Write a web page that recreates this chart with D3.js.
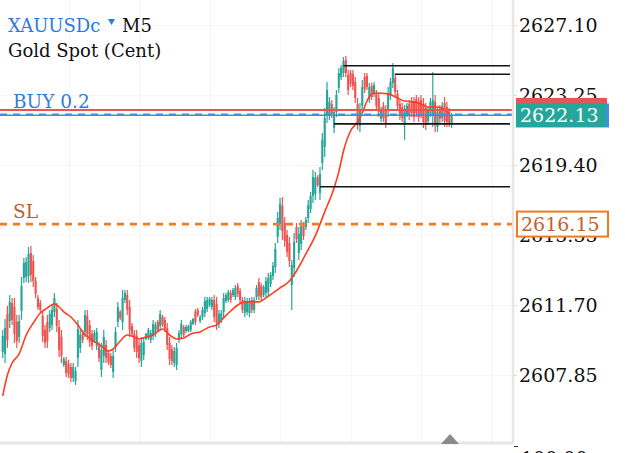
<!DOCTYPE html>
<html>
<head>
<meta charset="utf-8">
<script src="https://cdn.jsdelivr.net/npm/d3@7"></script>
<style>
  body { margin: 0; background: #fff; }
  svg { display: block; }
  text { font-family: "DejaVu Serif", serif; }
</style>
</head>
<body>
<div id="chart"></div>
<script>
// XAUUSDc M5 candles: [open, high, low, close]
var candles = [
  [2609.12,2610.33,2608.79,2610.00],[2609.01,2610.93,2608.51,2610.44],[2611.21,2611.65,2609.34,2609.78],[2610.82,2612.25,2610.44,2611.87],
  [2611.81,2612.09,2610.60,2610.88],[2611.59,2612.09,2609.61,2610.11],[2610.77,2611.15,2609.34,2609.72],[2609.94,2611.15,2609.61,2610.82],
  [2611.37,2613.24,2610.88,2612.75],[2613.19,2614.29,2612.91,2614.01],[2613.24,2614.34,2612.97,2614.07],[2613.30,2614.89,2612.91,2614.51],
  [2614.56,2614.95,2612.97,2613.35],[2614.12,2614.45,2612.69,2613.02],[2613.02,2613.24,2612.09,2612.31],[2612.09,2612.25,2611.43,2611.59],
  [2611.81,2611.98,2611.26,2611.43],[2611.10,2611.43,2609.67,2610.00],[2610.33,2610.60,2609.34,2609.61],[2610.77,2611.15,2609.34,2609.72],
  [2610.44,2611.43,2610.22,2611.21],[2610.60,2611.70,2610.33,2611.43],[2611.32,2612.36,2611.04,2612.09],[2611.48,2611.81,2610.22,2610.55],
  [2610.49,2610.88,2608.84,2609.23],[2609.94,2610.33,2608.51,2608.90],[2608.40,2608.84,2608.29,2608.73],[2608.62,2608.84,2607.74,2607.96],
  [2608.46,2608.68,2607.69,2607.91],[2608.29,2608.51,2607.47,2607.69],[2607.69,2608.51,2607.47,2608.29],[2607.52,2608.29,2607.30,2608.07],
  [2608.79,2610.88,2608.29,2610.38],[2609.34,2610.33,2609.06,2610.05],[2610.16,2610.33,2609.61,2609.78],[2610.22,2611.43,2609.94,2611.15],
  [2611.10,2611.43,2609.78,2610.11],[2610.60,2610.88,2609.39,2609.67],[2610.11,2610.33,2609.23,2609.45],[2609.78,2610.33,2609.61,2610.16],
  [2609.45,2610.44,2609.23,2610.22],[2609.45,2609.67,2608.57,2608.79],[2608.13,2609.61,2607.74,2609.23],[2608.90,2610.33,2608.51,2609.94],
  [2609.50,2609.78,2608.51,2608.79],[2609.06,2609.23,2608.40,2608.57],[2608.90,2609.06,2608.24,2608.40],[2608.02,2609.23,2607.69,2608.90],
  [2609.39,2610.49,2609.12,2610.22],[2610.77,2611.87,2610.49,2611.59],[2611.32,2611.43,2610.88,2610.99],[2610.77,2612.53,2610.33,2612.09],
  [2611.98,2612.53,2611.81,2612.36],[2612.25,2612.53,2611.15,2611.43],[2611.59,2611.98,2609.94,2610.33],[2610.55,2610.71,2609.94,2610.11],
  [2610.11,2610.33,2609.12,2609.34],[2610.00,2610.33,2608.79,2609.12],[2609.50,2609.78,2608.51,2608.79],[2608.62,2609.94,2608.29,2609.61],
  [2608.95,2609.94,2608.68,2609.67],[2609.83,2610.16,2609.78,2610.11],[2609.89,2610.44,2609.78,2610.33],[2609.78,2610.33,2609.61,2610.16],
  [2610.00,2610.88,2609.78,2610.66],[2610.11,2610.77,2609.94,2610.60],[2610.77,2610.88,2610.22,2610.33],[2610.55,2611.43,2610.33,2611.21],
  [2611.04,2611.15,2610.49,2610.60],[2610.88,2611.04,2610.22,2610.38],[2610.44,2610.71,2609.23,2609.50],[2609.61,2609.94,2608.40,2608.73],
  [2609.28,2609.50,2608.40,2608.62],[2608.51,2609.39,2608.29,2609.17],[2608.40,2609.61,2608.13,2609.34],[2609.78,2610.33,2609.61,2610.16],
  [2610.11,2610.88,2609.89,2610.66],[2610.49,2610.60,2609.94,2610.05],[2610.27,2610.60,2610.16,2610.49],[2610.27,2610.60,2610.22,2610.55],
  [2610.33,2610.88,2610.22,2610.77],[2610.66,2610.99,2610.60,2610.93],[2611.32,2611.48,2610.60,2610.77],[2611.43,2611.54,2611.04,2611.15],
  [2610.82,2611.15,2610.71,2611.04],[2611.04,2611.59,2610.88,2611.43],[2611.26,2612.14,2611.04,2611.92],[2611.48,2612.14,2611.32,2611.98],
  [2611.70,2612.14,2611.59,2612.03],[2611.59,2612.14,2611.43,2611.98],[2611.98,2612.25,2610.77,2611.04],[2611.76,2612.14,2610.33,2610.71],
  [2610.66,2611.43,2610.44,2611.21],[2610.88,2611.43,2610.71,2611.26],[2611.32,2612.36,2611.04,2612.09],[2611.92,2612.36,2611.81,2612.25],
  [2611.98,2612.53,2611.87,2612.42],[2612.36,2612.53,2611.81,2611.98],[2612.25,2612.64,2612.14,2612.53],[2612.14,2612.80,2611.98,2612.64],
  [2612.75,2612.91,2612.14,2612.31],[2612.47,2612.64,2611.81,2611.98],[2611.98,2612.14,2611.26,2611.43],[2611.26,2612.14,2611.04,2611.92],
  [2611.32,2612.09,2611.15,2611.92],[2611.26,2612.09,2611.04,2611.87],[2611.98,2612.14,2611.26,2611.43],[2611.43,2612.14,2611.26,2611.98],
  [2612.14,2612.80,2611.98,2612.64],[2612.97,2613.19,2611.98,2612.20],[2612.75,2612.91,2611.98,2612.14],[2612.25,2612.80,2612.14,2612.69],
  [2612.36,2613.24,2612.14,2613.02],[2612.42,2613.46,2612.14,2613.19],[2612.86,2613.52,2612.69,2613.35],[2613.30,2614.07,2613.08,2613.85],
  [2613.79,2615.11,2613.46,2614.78],[2615.44,2616.82,2615.11,2616.49],[2616.16,2617.59,2615.83,2617.26],[2617.15,2617.64,2615.28,2615.77],
  [2616.21,2616.54,2614.89,2615.22],[2615.55,2615.83,2614.34,2614.62],[2615.11,2615.44,2613.79,2614.12],[2612.80,2614.18,2611.43,2613.90],
  [2613.74,2615.66,2613.24,2615.17],[2615.99,2616.21,2615.11,2615.33],[2614.56,2615.99,2614.18,2615.61],[2615.06,2616.38,2614.73,2616.05],
  [2616.05,2616.27,2615.28,2615.50],[2615.99,2616.54,2615.83,2616.38],[2616.49,2617.48,2616.21,2617.20],[2616.98,2617.92,2616.76,2617.70],
  [2617.70,2619.13,2617.31,2618.74],[2617.81,2619.02,2617.48,2618.69],[2618.74,2618.85,2618.19,2618.30],[2617.86,2619.29,2617.48,2618.91],
  [2619.51,2621.16,2619.13,2620.78],[2620.39,2622.54,2619.84,2621.99],[2622.15,2623.97,2621.71,2623.53],[2622.15,2623.14,2621.88,2622.87],
  [2622.76,2622.98,2621.99,2622.21],[2621.44,2622.59,2621.16,2622.32],[2622.32,2623.53,2622.04,2623.25],[2623.64,2624.74,2623.36,2624.46],
  [2624.24,2624.90,2624.08,2624.74],[2624.46,2625.34,2624.24,2625.12],[2625.18,2625.40,2624.24,2624.46],[2624.35,2624.63,2623.25,2623.53],
  [2624.46,2624.63,2623.69,2623.86],[2624.41,2624.63,2623.53,2623.75],[2623.97,2624.24,2622.81,2623.09],[2622.76,2623.09,2621.33,2621.66],
  [2621.55,2622.81,2621.22,2622.48],[2622.65,2624.08,2622.26,2623.69],[2624.24,2624.46,2623.36,2623.58],[2624.30,2624.46,2623.53,2623.69],
  [2623.03,2623.91,2622.81,2623.69],[2623.75,2623.91,2622.98,2623.14],[2623.31,2623.97,2623.14,2623.80],[2623.31,2623.53,2622.43,2622.65],
  [2623.09,2623.36,2622.04,2622.32],[2621.93,2622.59,2621.77,2622.43],[2622.65,2622.87,2621.77,2621.99],[2622.43,2622.70,2621.44,2621.71],
  [2622.37,2623.69,2622.04,2623.36],[2623.20,2624.19,2622.98,2623.97],[2623.91,2625.01,2623.64,2624.74],[2624.19,2624.46,2623.14,2623.42],
  [2623.31,2623.53,2622.43,2622.65],[2622.76,2622.98,2621.88,2622.10],[2622.59,2622.81,2621.77,2621.99],[2621.60,2622.70,2620.78,2622.43],
  [2622.21,2622.81,2622.04,2622.65],[2622.76,2622.98,2621.88,2622.10],[2622.92,2623.14,2622.04,2622.26],[2622.87,2623.14,2621.77,2622.04],
  [2623.03,2623.25,2622.04,2622.26],[2622.87,2623.14,2621.77,2622.04],[2622.98,2623.25,2621.99,2622.26],[2622.76,2623.09,2621.44,2621.77],
  [2622.54,2622.81,2621.33,2621.60],[2621.82,2622.59,2621.60,2622.37],[2622.26,2623.09,2622.04,2622.87],[2622.15,2624.52,2621.49,2622.98],
  [2622.87,2623.25,2621.22,2621.60],[2621.49,2622.59,2621.22,2622.32],[2622.48,2622.70,2621.71,2621.93],[2621.99,2622.87,2621.77,2622.65],
  [2622.81,2623.14,2621.49,2621.82],[2622.59,2622.87,2621.49,2621.77],[2622.32,2622.54,2621.49,2621.71],[2621.60,2622.26,2621.44,2622.13]
];

// moving average line, [candle index, value]
var maPoints = [
  [0,2606.70],[2,2607.85],[4,2608.51],[7,2609.01],[10,2610.05],[13,2610.71],[16,2611.26],[19,2611.54],
  [22,2611.76],[24,2611.59],[26,2611.32],[29,2611.04],[32,2610.60],[34,2610.22],[38,2609.78],[42,2609.45],
  [45,2609.17],[47,2609.28],[50,2609.72],[53,2610.05],[55,2610.00],[58,2609.83],[61,2609.94],[64,2610.05],
  [67,2610.33],[68,2610.38],[71,2610.05],[74,2609.83],[77,2609.89],[80,2610.11],[84,2610.22],[88,2610.49],
  [91,2610.60],[94,2610.99],[97,2611.37],[100,2611.70],[103,2611.87],[109,2611.87],[112,2612.09],[118,2612.64],
  [122,2613.02],[125,2613.57],[129,2614.51],[133,2615.50],[137,2616.82],[141,2618.14],[143,2619.02],[145,2620.17],
  [148,2621.27],[151,2621.77],[153,2622.26],[155,2622.92],[157,2623.31],[159,2623.36],[164,2623.31],[168,2623.09],
  [171,2622.92],[175,2622.87],[178,2622.76],[181,2622.59],[185,2622.59],[188,2622.43],[190,2622.26]
];

// black level lines: [start candle index, price]
var levelLines = [[145, 2624.86], [167, 2624.39], [141, 2621.66], [135, 2618.20]];

var tickValues = [2627.10, 2623.25, 2619.40, 2615.55, 2611.70, 2607.85];
var gridCandles = [28, 58, 88, 118, 148, 178, 208];

var askPrice = 2622.43;
var buyPrice = 2622.18;
var bidPrice = 2622.13;
var slPrice = 2616.15;

var width = 625;
var height = 453;
var plotRight = 512;
var plotBottom = 443;

var upColor = "#26a69a";
var downColor = "#ef5350";

var svg = d3.select("#chart")
  .append("svg")
    .attr("width", width)
    .attr("height", height);

var x = d3.scaleLinear().domain([0, 191]).range([2.7, 451.6]);
var y = d3.scaleLinear().domain([2607.85, 2627.10]).range([375, 25]);

// faint grid
svg.append("g").selectAll("line")
  .data(tickValues)
  .enter().append("line")
    .attr("x1", 0).attr("x2", plotRight)
    .attr("y1", function(d) { return Math.round(y(d)) + 0.5; })
    .attr("y2", function(d) { return Math.round(y(d)) + 0.5; })
    .attr("stroke", "#f5f5f5");

svg.append("g").selectAll("line")
  .data(gridCandles)
  .enter().append("line")
    .attr("x1", function(d) { return Math.round(x(d)) + 0.5; })
    .attr("x2", function(d) { return Math.round(x(d)) + 0.5; })
    .attr("y1", 0).attr("y2", plotBottom)
    .attr("stroke", "#f5f5f5");

// candles
var candle = svg.append("g")
  .attr("class", "candles")
  .selectAll("g")
  .data(candles)
  .enter().append("g");

candle.append("line")
  .attr("x1", function(d, i) { return x(i); })
  .attr("x2", function(d, i) { return x(i); })
  .attr("y1", function(d) { return y(d[1]); })
  .attr("y2", function(d) { return y(d[2]); })
  .attr("stroke", function(d) { return d[3] >= d[0] ? upColor : downColor; })
  .attr("stroke-width", 1.2);

candle.append("rect")
  .attr("x", function(d, i) { return x(i) - 1.05; })
  .attr("width", 2.1)
  .attr("y", function(d) { return y(Math.max(d[0], d[3])); })
  .attr("height", function(d) { return Math.max(1, Math.abs(y(d[0]) - y(d[3]))); })
  .attr("fill", function(d) { return d[3] >= d[0] ? upColor : downColor; });

// moving average
var maLine = d3.line()
  .x(function(d) { return x(d[0]); })
  .y(function(d) { return y(d[1]); })
  .curve(d3.curveMonotoneX);

svg.append("path")
  .datum(maPoints)
  .attr("d", maLine)
  .attr("fill", "none")
  .attr("stroke", "#ff3d1f")
  .attr("stroke-width", 1.6);

// level lines
svg.append("g").selectAll("line")
  .data(levelLines)
  .enter().append("line")
    .attr("x1", function(d) { return x(d[0]); })
    .attr("x2", 510)
    .attr("y1", function(d) { return y(d[1]); })
    .attr("y2", function(d) { return y(d[1]); })
    .attr("stroke", "#151515")
    .attr("stroke-width", 1.6);

// trade lines
svg.append("line")
  .attr("x1", 0).attr("x2", plotRight)
  .attr("y1", y(askPrice)).attr("y2", y(askPrice))
  .attr("stroke", downColor).attr("stroke-width", 2);

svg.append("line")
  .attr("x1", 0).attr("x2", plotRight)
  .attr("y1", y(bidPrice)).attr("y2", y(bidPrice))
  .attr("stroke", upColor).attr("stroke-width", 1.5);

svg.append("line")
  .attr("x1", 0).attr("x2", plotRight)
  .attr("y1", y(buyPrice)).attr("y2", y(buyPrice))
  .attr("stroke", "#3f8fe6").attr("stroke-width", 2)
  .attr("stroke-dasharray", "7,6");

svg.append("line")
  .attr("x1", 0).attr("x2", plotRight)
  .attr("y1", y(slPrice)).attr("y2", y(slPrice))
  .attr("stroke", "#f47b20").attr("stroke-width", 2.6)
  .attr("stroke-dasharray", "7,6");

svg.append("text")
  .attr("x", 13).attr("y", y(askPrice) - 2)
  .attr("font-size", "18.5px")
  .attr("fill", "#2f7ed8")
  .text("BUY 0.2");

svg.append("text")
  .attr("x", 13).attr("y", y(slPrice) - 6)
  .attr("font-size", "18.5px")
  .attr("fill", "#b9602b")
  .text("SL");

// frame: price axis and bottom line
svg.append("line")
  .attr("x1", plotRight + 1).attr("x2", plotRight + 1)
  .attr("y1", 0).attr("y2", plotBottom + 1)
  .attr("stroke", "#e6e6e6").attr("stroke-width", 2.5);

svg.append("line")
  .attr("x1", 0).attr("x2", plotRight + 2)
  .attr("y1", plotBottom).attr("y2", plotBottom)
  .attr("stroke", "#e6e6e6").attr("stroke-width", 3);

svg.append("path")
  .attr("d", "M441,444L459,444L450,434Z")
  .attr("fill", "#8a8a8a");

var axis = svg.append("g")
  .attr("transform", "translate(" + (plotRight + 1) + ",0)")
  .call(d3.axisRight(y).tickValues(tickValues).tickSize(4).tickPadding(2).tickFormat(d3.format(".2f")));

axis.select(".domain").remove();
axis.selectAll(".tick line").attr("stroke", "#dddddd");
axis.selectAll(".tick text")
  .attr("fill", "#111")
  .attr("font-size", "19px")
  .attr("font-family", "DejaVu Serif");

// lower pane label, mostly cut off
svg.append("line")
  .attr("x1", 514).attr("x2", 518).attr("y1", 446.5).attr("y2", 446.5)
  .attr("stroke", "#333");
svg.append("text")
  .attr("x", 521).attr("y", 465)
  .attr("font-size", "19px")
  .attr("fill", "#111")
  .text("100.00");

// price labels on the axis
svg.append("rect")
  .attr("x", 516).attr("y", y(askPrice) - 12).attr("width", 91).attr("height", 24)
  .attr("fill", downColor);

svg.append("rect")
  .attr("x", 516).attr("y", y(buyPrice) - 11).attr("width", 93).attr("height", 24)
  .attr("fill", "#3f8fe6");

svg.append("rect")
  .attr("x", 516).attr("y", y(bidPrice) - 12.5).attr("width", 90).attr("height", 24)
  .attr("fill", upColor);

svg.append("text")
  .attr("x", 520).attr("y", y(bidPrice) + 7)
  .attr("font-size", "19px")
  .attr("fill", "#fff")
  .text(d3.format(".2f")(bidPrice));

svg.append("rect")
  .attr("x", 517).attr("y", y(slPrice) - 12.5).attr("width", 91).attr("height", 25)
  .attr("fill", "#fff")
  .attr("stroke", "#f07a1c").attr("stroke-width", 2);

svg.append("text")
  .attr("x", 521).attr("y", y(slPrice) + 7)
  .attr("font-size", "19px")
  .attr("fill", "#c0632c")
  .text(d3.format(".2f")(slPrice));

// header
svg.append("text")
  .attr("x", 8).attr("y", 31.5)
  .attr("font-size", "18px")
  .attr("fill", "#2a7ae2")
  .text("XAUUSDc");

svg.append("path")
  .attr("d", "M108,19L115,19L111.5,25Z")
  .attr("fill", "#2a7ae2");

svg.append("text")
  .attr("x", 122).attr("y", 31.5)
  .attr("font-size", "18px")
  .attr("fill", "#111")
  .text("M5");

svg.append("text")
  .attr("x", 8).attr("y", 56.5)
  .attr("font-size", "18px")
  .attr("fill", "#111")
  .text("Gold Spot (Cent)");
</script>
</body>
</html>
